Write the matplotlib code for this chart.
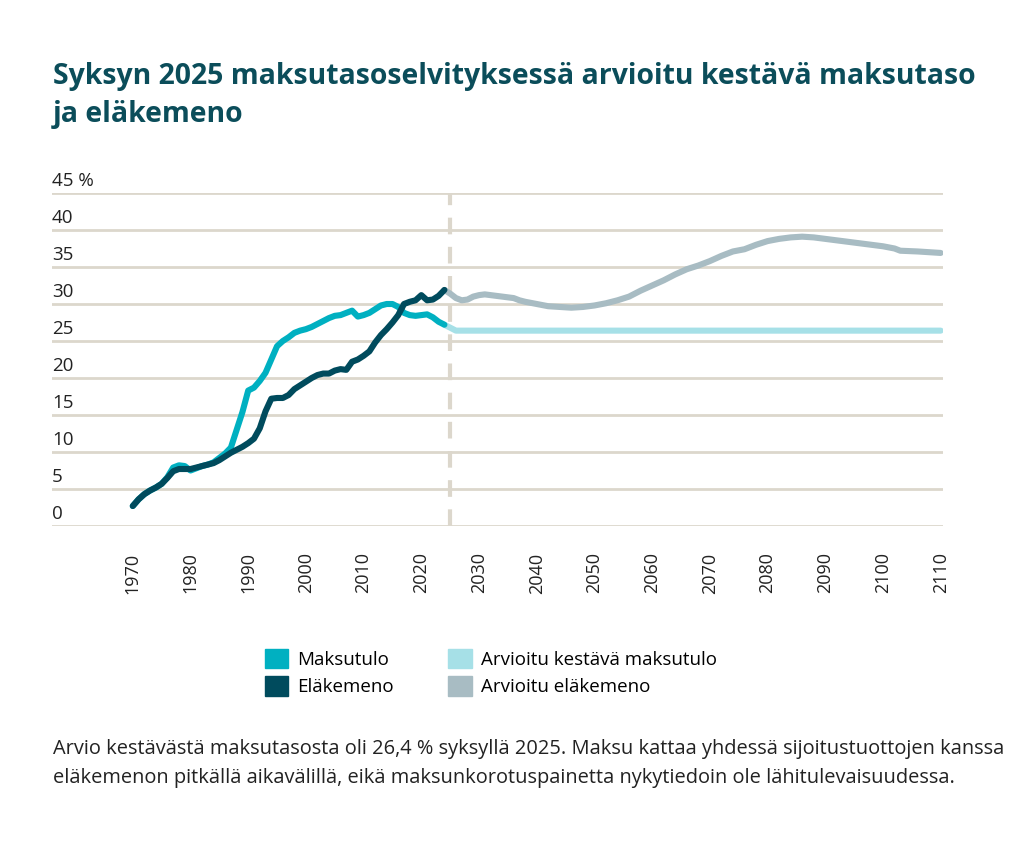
import matplotlib
matplotlib.use("Agg")
import matplotlib.pyplot as plt
from matplotlib.patches import Patch

# --- data ---
hist_years = list(range(1970, 2025))
maksutulo = [2.7, 3.6, 4.3, 4.8, 5.2, 5.7, 6.6, 7.9, 8.2, 8.1,
             7.5, 7.8, 8.1, 8.3, 8.6, 9.2, 9.8, 10.6, 13.0, 15.4,
             18.3, 18.7, 19.6, 20.7, 22.5, 24.3, 25.0, 25.5, 26.1, 26.4,
             26.6, 26.9, 27.3, 27.7, 28.1, 28.4, 28.5, 28.8, 29.1, 28.3,
             28.5, 28.8, 29.3, 29.8, 30.0, 30.0, 29.6, 28.8, 28.5, 28.4,
             28.5, 28.6, 28.2, 27.6, 27.2]
elakemeno = [2.7, 3.6, 4.3, 4.8, 5.2, 5.7, 6.5, 7.4, 7.7, 7.7,
             7.7, 7.9, 8.1, 8.3, 8.5, 8.9, 9.4, 9.9, 10.3, 10.7,
             11.2, 11.8, 13.2, 15.5, 17.2, 17.3, 17.3, 17.7, 18.5, 19.0,
             19.5, 20.0, 20.4, 20.6, 20.6, 21.0, 21.2, 21.1, 22.2, 22.5,
             23.0, 23.6, 24.8, 25.8, 26.6, 27.5, 28.5, 30.0, 30.3, 30.5,
             31.2, 30.5, 30.6, 31.1, 31.9]

kestava_years = [2024, 2025, 2026, 2110]
kestava = [27.2, 26.8, 26.4, 26.4]

proj_years = [2024, 2025, 2026, 2027, 2028, 2029, 2030, 2031, 2032, 2033,
              2034, 2035, 2036, 2037, 2038, 2040, 2042, 2044, 2046, 2048,
              2050, 2052, 2054, 2056, 2058, 2060, 2062, 2064, 2066, 2068,
              2070, 2072, 2074, 2076, 2078, 2080, 2082, 2084, 2086, 2088,
              2090, 2092, 2094, 2096, 2098, 2100, 2102, 2103, 2106, 2108, 2110]
proj_elakemeno = [31.9, 31.4, 30.8, 30.5, 30.6, 31.0, 31.2, 31.3, 31.2, 31.1,
                  31.0, 30.9, 30.8, 30.5, 30.3, 30.0, 29.7, 29.6, 29.5, 29.6,
                  29.8, 30.1, 30.5, 31.0, 31.8, 32.5, 33.2, 34.0, 34.7, 35.2,
                  35.8, 36.5, 37.1, 37.4, 38.0, 38.5, 38.8, 39.0, 39.1, 39.0,
                  38.8, 38.6, 38.4, 38.2, 38.0, 37.8, 37.5, 37.2, 37.1, 37.0, 36.9]

y_ticks = [0, 5, 10, 15, 20, 25, 30, 35, 40, 45]
y_labels = ["0", "5", "10", "15", "20", "25", "30", "35", "40", "45 %"]
x_ticks = list(range(1970, 2111, 10))

title = "Syksyn 2025 maksutasoselvityksessä arvioitu kestävä maksutaso\nja eläkemeno"
note = ("Arvio kestävästä maksutasosta oli 26,4 % syksyllä 2025. Maksu kattaa yhdessä sijoitustuottojen kanssa\n"
        "eläkemenon pitkällä aikavälillä, eikä maksunkorotuspainetta nykytiedoin ole lähitulevaisuudessa.")

c_maksu = "#00b0c1"
c_elake = "#004b5d"
c_kestava = "#a6e0e7"
c_proj = "#a8bcc3"
c_grid = "#dcd7cc"
c_title = "#0b4d5a"
c_text = "#222222"

plt.rcParams["font.family"] = ["Open Sans", "DejaVu Sans"]

fig = plt.figure(figsize=(10.24, 8.5), dpi=100)
ax = fig.add_axes([52 / 1024, 1 - 526 / 850, 891 / 1024, 333 / 850])

ax.set_xlim(1956, 2110.4)
ax.set_ylim(0, 45)
for s in ax.spines.values():
    s.set_visible(False)
for v in y_ticks:
    ax.axhline(v, color=c_grid, lw=2, zorder=1)
ax.axvline(2025, color=c_grid, lw=3, dashes=(4, 3), zorder=1)

lw = 4.4
ax.plot(kestava_years, kestava, color=c_kestava, lw=lw, solid_capstyle="round", zorder=2)
ax.plot(proj_years, proj_elakemeno, color=c_proj, lw=lw, solid_capstyle="round", zorder=2)
ax.plot(hist_years, maksutulo, color=c_maksu, lw=lw, solid_capstyle="round", solid_joinstyle="round", zorder=3)
ax.plot(hist_years, elakemeno, color=c_elake, lw=lw, solid_capstyle="round", solid_joinstyle="round", zorder=4)

ax.set_yticks([])
ax.set_xticks(x_ticks)
ax.set_xticklabels([str(x) for x in x_ticks], rotation=90, fontsize=13, color=c_text)
ax.tick_params(axis="x", length=0, pad=19)
for v, lab in zip(y_ticks, y_labels):
    ax.text(0, v + 0.4, lab, transform=ax.get_yaxis_transform(), ha="left", va="bottom",
            fontsize=13.5, color=c_text)

fig.text(53 / 1024, 1 - 62 / 850, title, ha="left", va="top", fontsize=20.4,
         fontweight="bold", color=c_title, linespacing=1.42)

handles = [Patch(color=c_maksu), Patch(color=c_elake), Patch(color=c_kestava), Patch(color=c_proj)]
labels = ["Maksutulo", "Eläkemeno", "Arvioitu kestävä maksutulo", "Arvioitu eläkemeno"]
fig.legend(handles, labels, ncol=2, loc="upper left", bbox_to_anchor=(257 / 1024, 1 - 641 / 850),
           frameon=False, fontsize=13.5, handlelength=1.25, handleheight=1.25, handletextpad=0.5,
           columnspacing=2.9, labelspacing=0.38, borderaxespad=0)

fig.text(53 / 1024, 1 - 739 / 850, note, ha="left", va="top", fontsize=14.45, color=c_text, linespacing=1.57)

fig.savefig("out.png", dpi=100)
